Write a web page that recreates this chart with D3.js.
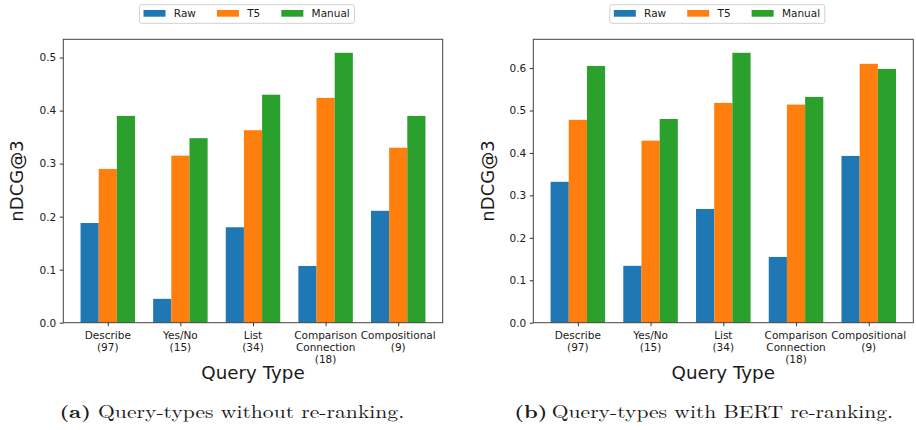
<!DOCTYPE html>
<html>
<head>
<meta charset="utf-8">
<script src="https://cdn.jsdelivr.net/npm/d3@7"></script>
<style>
  body { margin: 0; background: #fff; }
  svg text { font-family: "DejaVu Sans", sans-serif; fill: #1a1a1a; }
  .caption text { font-family: "Latin Modern Roman", "Liberation Serif", "DejaVu Serif", serif; }
</style>
</head>
<body>
<svg id="fig" width="916" height="430"></svg>
<script>
// data
const categories = [["Describe", "(97)"], ["Yes/No", "(15)"], ["List", "(34)"],
                    ["Comparison", "Connection", "(18)"], ["Compositional", "(9)"]];
const seriesNames = ["Raw", "T5", "Manual"];
const colors = ["#1f77b4", "#ff7f0e", "#2ca02c"];

// (a) without re-ranking
const rawA    = [0.188, 0.045, 0.180, 0.107, 0.211];
const t5A     = [0.290, 0.315, 0.363, 0.424, 0.330];
const manualA = [0.390, 0.348, 0.430, 0.509, 0.390];
// (b) with BERT re-ranking
const rawB    = [0.332, 0.134, 0.268, 0.155, 0.393];
const t5B     = [0.478, 0.429, 0.518, 0.514, 0.610];
const manualB = [0.605, 0.480, 0.636, 0.532, 0.598];

const svg = d3.select("#fig");

function panel(opts) {
    const { x0, x1, series, captionBold, captionRest, captionX, captionW, ylabelX } = opts;
    const y0 = 39.3, y1 = 322.7;
    const g = svg.append("g");

    const barW = 0.25;
    const x = d3.scaleLinear().domain([-0.6125, 4.6125]).range([x0, x1]);
    const maxV = d3.max(series.flat());
    const y = d3.scaleLinear().domain([0, maxV * 1.05]).range([y1, y0]);

    // bars
    series.forEach((vals, s) => {
        g.append("g").selectAll("rect")
            .data(vals)
            .join("rect")
            .attr("x", (d, i) => x(i + (s - 1) * barW - barW / 2))
            .attr("width", x(barW) - x(0))
            .attr("y", d => y(d))
            .attr("height", d => y(0) - y(d))
            .attr("fill", colors[s]);
    });

    // y axis
    const yAxis = g.append("g")
        .attr("transform", `translate(${x0},0)`)
        .call(d3.axisLeft(y).tickValues(d3.range(0, maxV * 1.05, 0.1)).tickFormat(d3.format(".1f"))
            .tickSize(3.5).tickPadding(3.5));
    yAxis.select(".domain").remove();
    yAxis.selectAll("text").style("font-size", "10.5px").attr("fill", "#1a1a1a");
    yAxis.selectAll("line").attr("stroke", "#333");

    // x axis
    const xAxis = g.append("g")
        .attr("transform", `translate(0,${y1})`)
        .call(d3.axisBottom(x).tickValues(d3.range(5)).tickFormat("").tickSize(3.5));
    xAxis.select(".domain").remove();
    xAxis.selectAll("line").attr("stroke", "#333");

    g.append("g").selectAll("text")
        .data(categories)
        .join("text")
        .attr("text-anchor", "middle")
        .style("font-size", "10.5px")
        .attr("transform", (d, i) => `translate(${x(i)},${y1 + 16.3})`)
        .selectAll("tspan")
        .data(d => d)
        .join("tspan")
        .attr("x", 0)
        .attr("y", (d, j) => j * 11.8)
        .text(d => d);

    // frame
    g.append("rect")
        .attr("x", x0).attr("y", y0)
        .attr("width", x1 - x0).attr("height", y1 - y0)
        .attr("fill", "none").attr("stroke", "#444").attr("stroke-width", 1);

    // axis titles
    g.append("text")
        .attr("x", (x0 + x1) / 2).attr("y", 379)
        .attr("text-anchor", "middle")
        .style("font-size", "18.3px")
        .text("Query Type");
    g.append("text")
        .attr("transform", `translate(${ylabelX},${(y0 + y1) / 2}) rotate(-90)`)
        .attr("text-anchor", "middle")
        .style("font-size", "18px")
        .text("nDCG@3");

    // legend
    const leg = g.append("g");
    const items = leg.selectAll("g").data(seriesNames).join("g");
    items.append("rect")
        .attr("width", 22).attr("height", 6.7)
        .attr("fill", (d, i) => colors[i]);
    items.append("text")
        .attr("x", 30.3).attr("y", 7.2)
        .style("font-size", "10.5px")
        .text(d => d);
    let cx = 0;
    items.each(function() {
        const w = 30.3 + d3.select(this).select("text").node().getComputedTextLength();
        d3.select(this).attr("transform", `translate(${cx},0)`);
        cx += w + 21;
    });
    const legW = cx - 21 + 8.7;
    const legX = (x0 + x1) / 2 - 6 - legW / 2;
    leg.insert("rect", ":first-child")
        .attr("x", -4).attr("y", -5.3)
        .attr("width", legW).attr("height", 18.6)
        .attr("rx", 2)
        .attr("fill", "#fff").attr("stroke", "#d0d0d0");
    leg.attr("transform", `translate(${legX + 4},10)`);

    // caption (serif, stretched to the width of the Computer Modern original)
    const capG = svg.append("g").attr("class", "caption");
    const cap = capG.append("text")
        .attr("x", 0).attr("y", 0)
        .attr("text-anchor", "middle")
        .style("font-size", "18px");
    cap.append("tspan").attr("font-weight", "bold").text(captionBold);
    cap.append("tspan").text(captionRest);
    const sx = captionW / cap.node().getComputedTextLength();
    capG.attr("transform", `translate(${captionX},418) scale(${sx},1)`);
}

panel({
    x0: 63.3, x1: 442.7,
    series: [rawA, t5A, manualA],
    captionBold: "(a)", captionRest: " Query-types without re-ranking.",
    captionX: 231.8, captionW: 345, ylabelX: 23
});
panel({
    x0: 533.3, x1: 913.3,
    series: [rawB, t5B, manualB],
    captionBold: "(b)", captionRest: "\u2009Query-types with BERT re-ranking.",
    captionX: 703.7, captionW: 379, ylabelX: 494
});
</script>
</body>
</html>
